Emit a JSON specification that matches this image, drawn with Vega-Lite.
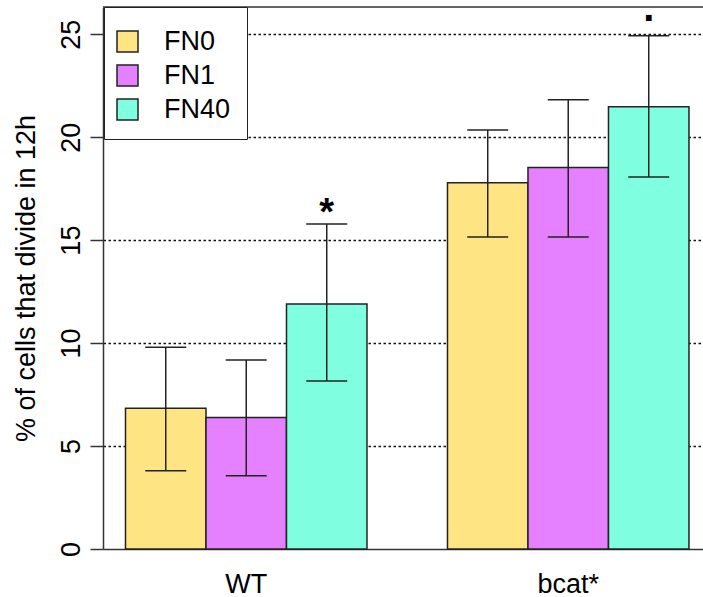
{
  "$schema": "https://vega.github.io/schema/vega-lite/v6.json",
  "width": 600,
  "height": 542,
  "autosize": "none",
  "padding": {"left": 103, "top": 7, "right": 0, "bottom": 48},
  "background": "white",
  "config": {
    "font": "Liberation Sans",
    "view": {"stroke": null},
    "axis": {"labelColor": "black", "titleColor": "black", "domainColor": "#333", "tickColor": "#333", "domainWidth": 1.5, "tickWidth": 1.5}
  },
  "data": {
    "values": [
      {"group": "WT", "cond": "FN0", "mean": 6.83, "lo": 3.8, "hi": 9.8, "sig": ""},
      {"group": "WT", "cond": "FN1", "mean": 6.38, "lo": 3.56, "hi": 9.18, "sig": ""},
      {"group": "WT", "cond": "FN40", "mean": 11.9, "lo": 8.16, "hi": 15.78, "sig": "*"},
      {"group": "bcat*", "cond": "FN0", "mean": 17.78, "lo": 15.15, "hi": 20.35, "sig": ""},
      {"group": "bcat*", "cond": "FN1", "mean": 18.52, "lo": 15.15, "hi": 21.81, "sig": ""},
      {"group": "bcat*", "cond": "FN40", "mean": 21.48, "lo": 18.07, "hi": 24.92, "sig": "."}
    ]
  },
  "layer": [
    {
      "mark": {"type": "bar", "stroke": "#222", "strokeWidth": 1.5},
      "encoding": {
        "x": {"field": "group", "type": "nominal", "sort": ["WT", "bcat*"],
              "scale": {"paddingInner": 0.25, "paddingOuter": 0.0567, "align": 0.616},
              "axis": {"title": null, "ticks": false, "domain": true, "labelAngle": 0, "labelFontSize": 27, "labelBaseline": "alphabetic", "labelPadding": 43}},
        "xOffset": {"field": "cond", "type": "nominal", "sort": ["FN0", "FN1", "FN40"], "scale": {"paddingInner": 0, "paddingOuter": 0}},
        "y": {"field": "mean", "type": "quantitative", "title": "% of cells that divide in 12h",
              "scale": {"domain": [0, 26.32], "nice": false, "zero": true},
              "axis": {"values": [0, 5, 10, 15, 20, 25], "tickSize": 13, "labelAngle": -90, "labelAlign": "center", "labelBaseline": "alphabetic", "labelPadding": 11, "labelFontSize": 27,
                       "titleFontSize": 27, "titleFontWeight": "normal", "titleAngle": -90, "titleAlign": "center", "titleBaseline": "alphabetic", "titleX": -69, "titleY": 271,
                       "grid": true, "gridColor": "#111", "gridDash": [2.5, 2.5], "gridWidth": 1.3,
                       "gridOpacity": {"condition": {"test": "datum.value === 0", "value": 0}, "value": 1}}},
        "fill": {"field": "cond", "type": "nominal", "scale": {"domain": ["FN0", "FN1", "FN40"], "range": ["#FFE484", "#E580FF", "#80FFE0"]},
                 "legend": {"orient": "none", "legendX": 1, "legendY": 0, "title": " ", "titleFontSize": 1, "titlePadding": 4, "strokeColor": "#222", "fillColor": "white", "padding": 16,
                            "symbolType": "square", "symbolSize": 441, "symbolStrokeColor": "#222", "symbolStrokeWidth": 1.5, "symbolOpacity": 1,
                            "labelFontSize": 27, "labelOffset": 23, "rowPadding": 6, "symbolOffset": -6, "labelColor": "black"}}
      }
    },
    {
      "mark": {"type": "rule", "color": "#222", "strokeWidth": 1.5},
      "encoding": {
        "x": {"field": "group", "type": "nominal", "sort": ["WT", "bcat*"]},
        "xOffset": {"field": "cond", "type": "nominal", "sort": ["FN0", "FN1", "FN40"]},
        "y": {"field": "lo", "type": "quantitative", "title": "% of cells that divide in 12h"},
        "y2": {"field": "hi"}
      }
    },
    {
      "mark": {"type": "tick", "color": "#222", "thickness": 1.5, "size": 41, "opacity": 1},
      "encoding": {
        "x": {"field": "group", "type": "nominal", "sort": ["WT", "bcat*"]},
        "xOffset": {"field": "cond", "type": "nominal", "sort": ["FN0", "FN1", "FN40"]},
        "y": {"field": "lo", "type": "quantitative", "title": "% of cells that divide in 12h"}
      }
    },
    {
      "mark": {"type": "tick", "color": "#222", "thickness": 1.5, "size": 41, "opacity": 1},
      "encoding": {
        "x": {"field": "group", "type": "nominal", "sort": ["WT", "bcat*"]},
        "xOffset": {"field": "cond", "type": "nominal", "sort": ["FN0", "FN1", "FN40"]},
        "y": {"field": "hi", "type": "quantitative", "title": "% of cells that divide in 12h"}
      }
    },
    {
      "transform": [{"filter": "datum.sig == '*'"}],
      "mark": {"type": "text", "fontSize": 38, "fontWeight": "bold", "baseline": "alphabetic", "align": "center", "dy": 1, "color": "black"},
      "encoding": {
        "x": {"field": "group", "type": "nominal", "sort": ["WT", "bcat*"]},
        "xOffset": {"field": "cond", "type": "nominal", "sort": ["FN0", "FN1", "FN40"]},
        "y": {"field": "hi", "type": "quantitative", "title": "% of cells that divide in 12h"},
        "text": {"field": "sig"}
      }
    },
    {
      "transform": [{"filter": "datum.sig == '.'"}],
      "mark": {"type": "text", "fontSize": 40, "fontWeight": "bold", "baseline": "alphabetic", "align": "center", "dy": -14.5, "color": "black"},
      "encoding": {
        "x": {"field": "group", "type": "nominal", "sort": ["WT", "bcat*"]},
        "xOffset": {"field": "cond", "type": "nominal", "sort": ["FN0", "FN1", "FN40"]},
        "y": {"field": "hi", "type": "quantitative", "title": "% of cells that divide in 12h"},
        "text": {"field": "sig"}
      }
    },
    {
      "data": {"values": [{"top": 26.32}]},
      "mark": {"type": "rule", "color": "#333", "strokeWidth": 1.5},
      "encoding": {
        "y": {"field": "top", "type": "quantitative", "title": "% of cells that divide in 12h"}
      }
    }
  ]
}
